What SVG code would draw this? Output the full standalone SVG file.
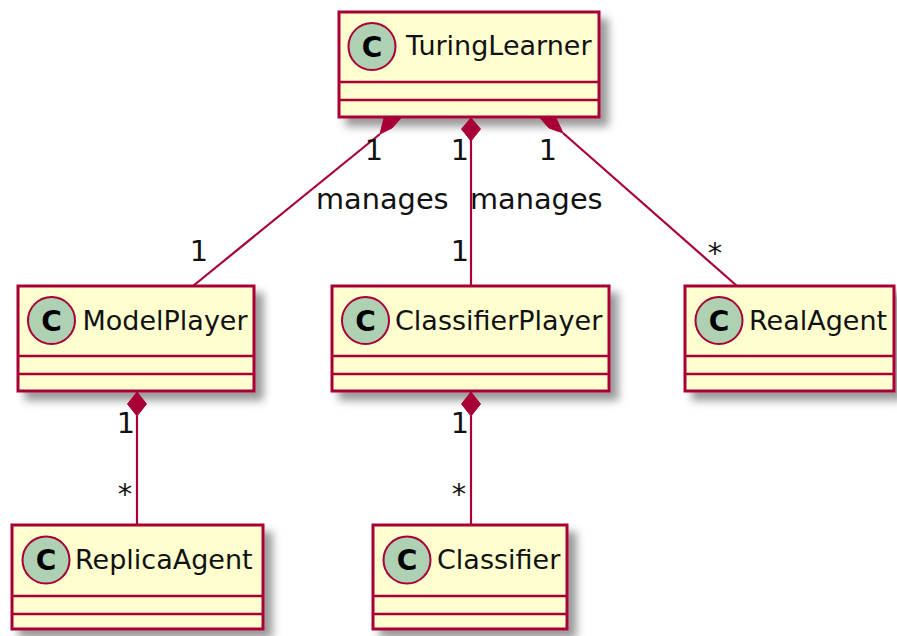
<svg xmlns="http://www.w3.org/2000/svg" width="897" height="636" viewBox="0 0 897 636">
  <style>
    .box { fill: #FEFECE; stroke: #A80036; stroke-width: 3; }
    .div { stroke: #A80036; stroke-width: 2.6; }
    .spot { fill: #ADD1B2; stroke: #A80036; stroke-width: 2; }
    .spotc { font-family: "DejaVu Sans", sans-serif; font-weight: bold; font-size: 28px; fill: #000; text-anchor: middle; }
    .name { font-family: "DejaVu Sans", sans-serif; font-size: 27px; fill: #111; }
    .edge { stroke: #A80036; stroke-width: 2.2; fill: none; }
    .dia { fill: #A80036; stroke: #A80036; stroke-width: 1; }
    .lbl { font-family: "DejaVu Sans", sans-serif; font-size: 28.8px; fill: #111; }
    .mul { font-family: "DejaVu Sans", sans-serif; font-size: 28.8px; fill: #111; text-anchor: middle; }
  </style>
  <defs>
    <filter id="shadow" x="-10%" y="-10%" width="130%" height="140%">
      <feGaussianBlur in="SourceAlpha" stdDeviation="4"/>
      <feOffset dx="8" dy="8" result="blur"/>
      <feFlood flood-color="#000" flood-opacity="0.4"/>
      <feComposite in2="blur" operator="in"/>
      <feMerge>
        <feMergeNode/>
        <feMergeNode in="SourceGraphic"/>
      </feMerge>
    </filter>
  </defs>

  <rect width="897" height="636" fill="#FFFFFF"/>

  <!-- classes -->
  <g id="TuringLearner">
    <rect class="box" x="339" y="12" width="260" height="105" filter="url(#shadow)"/>
    <circle class="spot" cx="372" cy="46.5" r="23.5"/>
    <text class="spotc" x="372" y="56.5">C</text>
    <text class="name" x="406" y="55">TuringLearner</text>
    <line class="div" x1="339" y1="82" x2="599" y2="82"/>
    <line class="div" x1="339" y1="100" x2="599" y2="100"/>
  </g>

  <g id="ModelPlayer">
    <rect class="box" x="18" y="286" width="236" height="105" filter="url(#shadow)"/>
    <circle class="spot" cx="51.5" cy="320.5" r="23.5"/>
    <text class="spotc" x="51.5" y="330.5">C</text>
    <text class="name" x="82.5" y="330">ModelPlayer</text>
    <line class="div" x1="18" y1="356" x2="254" y2="356"/>
    <line class="div" x1="18" y1="374" x2="254" y2="374"/>
  </g>

  <g id="ClassifierPlayer">
    <rect class="box" x="332" y="286" width="277" height="105" filter="url(#shadow)"/>
    <circle class="spot" cx="365.5" cy="320.5" r="23.5"/>
    <text class="spotc" x="365.5" y="330.5">C</text>
    <text class="name" x="395" y="330">ClassifierPlayer</text>
    <line class="div" x1="332" y1="356" x2="609" y2="356"/>
    <line class="div" x1="332" y1="374" x2="609" y2="374"/>
  </g>

  <g id="RealAgent">
    <rect class="box" x="685" y="286" width="209" height="105" filter="url(#shadow)"/>
    <circle class="spot" cx="719" cy="320.5" r="23.5"/>
    <text class="spotc" x="719" y="330.5">C</text>
    <text class="name" x="749" y="330">RealAgent</text>
    <line class="div" x1="685" y1="356" x2="894" y2="356"/>
    <line class="div" x1="685" y1="374" x2="894" y2="374"/>
  </g>

  <g id="ReplicaAgent">
    <rect class="box" x="12" y="525" width="251" height="104" filter="url(#shadow)"/>
    <circle class="spot" cx="46" cy="560" r="23.5"/>
    <text class="spotc" x="46" y="570">C</text>
    <text class="name" x="75" y="569">ReplicaAgent</text>
    <line class="div" x1="12" y1="596" x2="263" y2="596"/>
    <line class="div" x1="12" y1="614" x2="263" y2="614"/>
  </g>

  <g id="Classifier">
    <rect class="box" x="373" y="525" width="194" height="104" filter="url(#shadow)"/>
    <circle class="spot" cx="407" cy="560" r="23.5"/>
    <text class="spotc" x="407" y="570">C</text>
    <text class="name" x="437" y="569">Classifier</text>
    <line class="div" x1="373" y1="596" x2="567" y2="596"/>
    <line class="div" x1="373" y1="614" x2="567" y2="614"/>
  </g>

  <!-- composition links, diamond at the owning class -->
  <g id="connectors">
    <!-- TuringLearner to ModelPlayer -->
    <line class="edge" x1="380" y1="134" x2="193" y2="286"/>
    <polygon class="dia" points="401,118 384,118 380,134 392,128"/>
    <!-- TuringLearner to ClassifierPlayer -->
    <line class="edge" x1="471" y1="140" x2="471" y2="286"/>
    <polygon class="dia" points="471,118 461.5,129 471,141 480.5,129"/>
    <!-- TuringLearner to RealAgent -->
    <line class="edge" x1="563" y1="133" x2="737" y2="286"/>
    <polygon class="dia" points="540,118 556,118 563,133 549,128"/>
    <!-- ModelPlayer to ReplicaAgent -->
    <line class="edge" x1="137" y1="415" x2="137" y2="525"/>
    <polygon class="dia" points="137,392 127.5,404 137,416 146.5,404"/>
    <!-- ClassifierPlayer to Classifier -->
    <line class="edge" x1="471" y1="415" x2="471" y2="525"/>
    <polygon class="dia" points="471,392 461.5,404 471,416 480.5,404"/>

    <!-- labels and multiplicities -->
    <text class="mul" x="374" y="160">1</text>
    <text class="lbl" x="316" y="209">manages</text>
    <text class="mul" x="199" y="261">1</text>

    <text class="mul" x="460" y="160">1</text>
    <text class="lbl" x="470" y="209">manages</text>
    <text class="mul" x="460" y="261">1</text>

    <text class="mul" x="548" y="160">1</text>
    <text class="mul" x="715" y="263">*</text>

    <text class="mul" x="126" y="433">1</text>
    <text class="mul" x="125" y="504">*</text>

    <text class="mul" x="460" y="433">1</text>
    <text class="mul" x="459" y="504">*</text>
  </g>
</svg>
